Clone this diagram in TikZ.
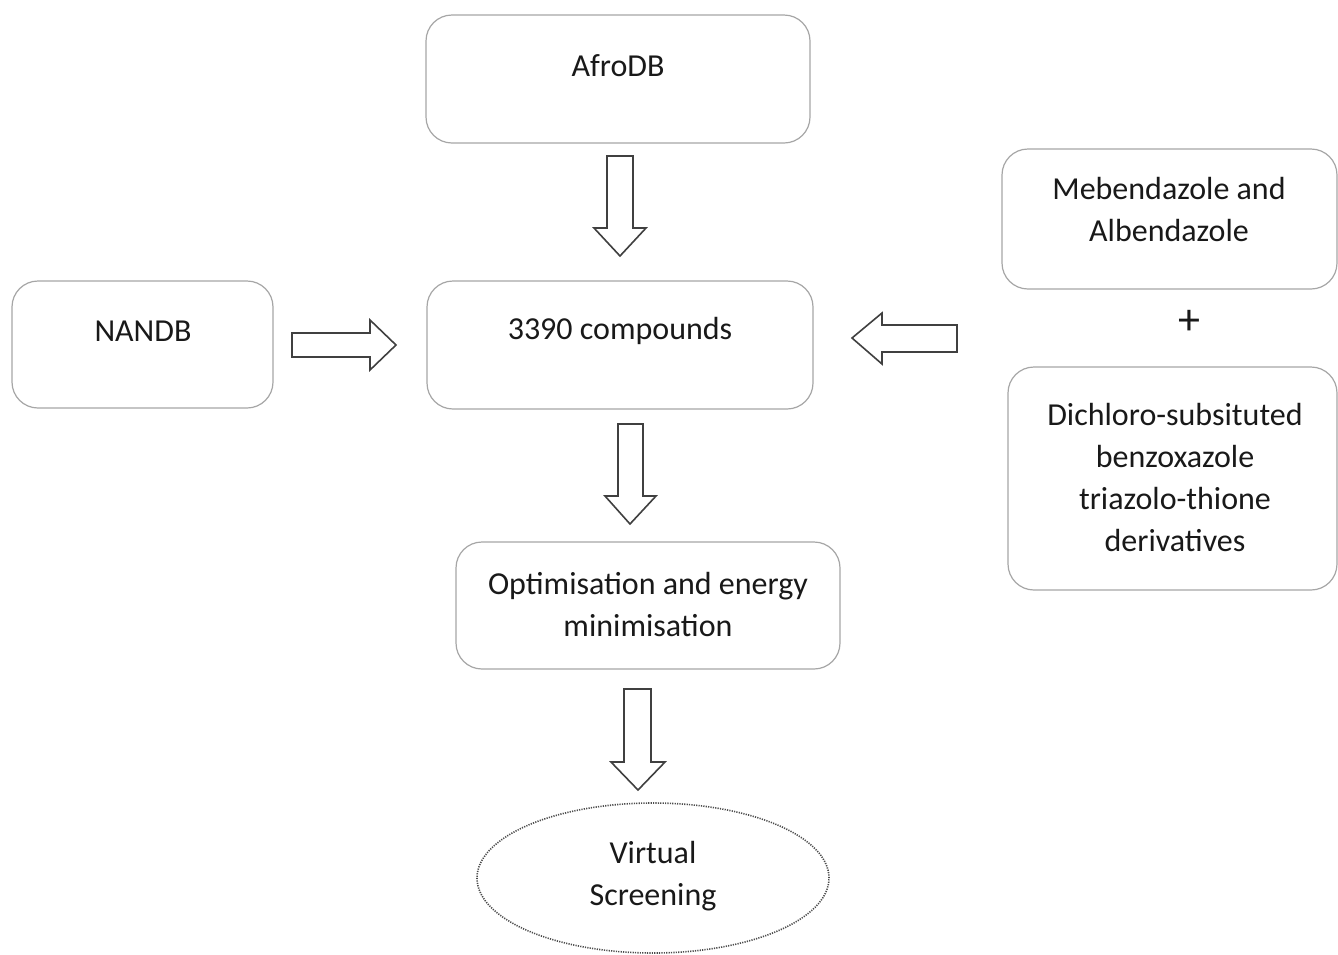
\documentclass[tikz,border=0pt]{standalone}
\usepackage{fontspec}
\setmainfont{Carlito}
\usetikzlibrary{shapes.geometric}
\begin{document}
\begin{tikzpicture}[x=1pt,y=-1pt,
  box/.style={draw=black!35, line width=1.2pt, rounded corners=26pt, fill=white},
  lbl/.style={font=\fontsize{32}{42}\selectfont, text=black!90, align=center, inner sep=0pt},
  blockarrow/.style={draw=black!75, line width=1.6pt, fill=white, line join=miter}]
\useasboundingbox (0,0) rectangle (1338,954);
% boxes
\draw[box] (426,15) rectangle (810,143);
\node[lbl] (afro) at (618,66) {AfroDB};
\draw[box] (12,281) rectangle (273,408);
\node[lbl] (nandb) at (143,331) {NANDB};
\draw[box] (427,281) rectangle (813,409);
\node[lbl] (comp) at (620,331) {3390 compounds};
\draw[box] (1002,149) rectangle (1337,289);
\node[lbl] (meb) at (1169,210) {Mebendazole and\\Albendazole};
\node[lbl, font=\fontsize{44}{44}\selectfont] (plus) at (1189,322) {+};
\draw[box] (1008,367) rectangle (1337,590);
\node[lbl] (dich) at (1175,477) {Dichloro-subsituted\\benzoxazole\\triazolo-thione\\derivatives};
\draw[box] (456,542) rectangle (840,669);
\node[lbl] (opt) at (648,604) {Optimisation and energy\\minimisation};
\node[draw=black!70, line width=1.6pt, dash pattern=on 1.2pt off 1.2pt, ellipse, minimum width=352pt, minimum height=150pt, inner sep=0pt] (vs) at (653,878) {};
\node[lbl] at (653,876) {Virtual\\Screening};
% block arrows
\draw[blockarrow] (607,156) -- (633,156) -- (633,228) -- (646,228) -- (620,256) -- (594,228) -- (607,228) -- cycle;
\draw[blockarrow] (292,333) -- (370,333) -- (370,320) -- (396,345) -- (370,370) -- (370,357) -- (292,357) -- cycle;
\draw[blockarrow] (957,325) -- (882,325) -- (882,313) -- (852,338) -- (882,364) -- (882,352) -- (957,352) -- cycle;
\draw[blockarrow] (618,424) -- (643,424) -- (643,496) -- (656,496) -- (630,524) -- (605,496) -- (618,496) -- cycle;
\draw[blockarrow] (624,689) -- (651,689) -- (651,762) -- (665,762) -- (638,790) -- (611,762) -- (624,762) -- cycle;
\end{tikzpicture}
\end{document}
